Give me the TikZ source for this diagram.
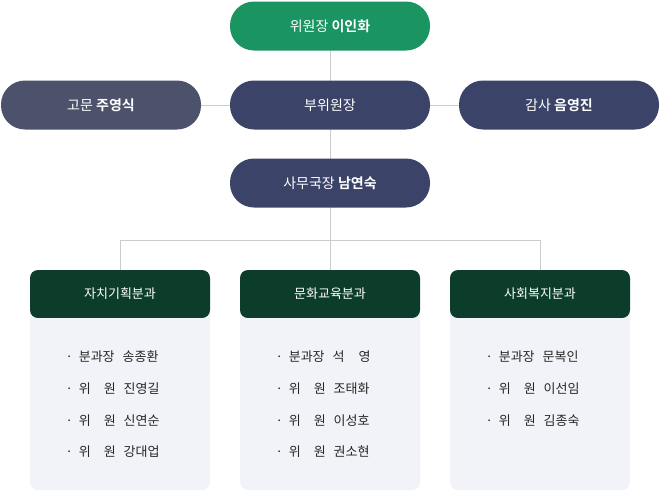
\documentclass[tikz,border=0pt]{standalone}
\usepackage{fontspec}
\setmainfont{Noto Sans CJK KR}
\newfontfamily\boldkr{Noto Sans CJK KR Bold}
\usetikzlibrary{positioning}
\definecolor{chairgreen}{HTML}{1A9461}
\definecolor{navy}{HTML}{3B4468}
\definecolor{slate}{HTML}{4D526C}
\definecolor{headgreen}{HTML}{0B3D2A}
\definecolor{bodygray}{HTML}{F2F3F8}
\definecolor{linegray}{HTML}{CCCCCC}
\tikzset{
  pill/.style={rounded corners=24pt, minimum width=200pt, minimum height=49pt,
    text=white, font=\fontsize{14}{16}\selectfont},
  head/.style={fill=headgreen, text=white, minimum width=180pt, minimum height=48pt,
    font=\fontsize{13}{15}\selectfont},
  item/.style={anchor=west, font=\fontsize{13}{15}\selectfont, text=black!85},
  link/.style={linegray, line width=0.8pt}
}
\newcommand{\wi}{·\hspace{6pt}위\hspace{13pt}원\hspace{8pt}}
\newcommand{\bun}{·\hspace{6pt}분과장\hspace{8pt}}
\begin{document}
\begin{tikzpicture}[x=1pt,y=-1pt]
  \useasboundingbox (0,0) rectangle (660,490);
  % 연결선
  \draw[link] (330,26) -- (330,240);
  \draw[link] (200,105) -- (460,105);
  \draw[link] (120,270) -- (120,240) -- (540,240) -- (540,270);
  \draw[link] (330,240) -- (330,270);

  % 상단
  \node[pill, fill=chairgreen] (chair) at (330,26) {위원장 {\boldkr 이인화}};
  \node[pill, fill=navy] (vice) at (330,105) {부위원장};
  \node[pill, fill=slate] (adviser) at (101,105) {고문 {\boldkr 주영식}};
  \node[pill, fill=navy] (auditor) at (559,105) {감사 {\boldkr 음영진}};
  \node[pill, fill=navy] (secretary) at (330,183) {사무국장 {\boldkr 남연숙}};

  % 분과
  \foreach \cx/\name/\title in {120/self/자치기획분과, 330/edu/문화교육분과, 540/welfare/사회복지분과} {
    \fill[bodygray, rounded corners=8pt] (\cx-90,300) rectangle (\cx+90,490);
    \fill[headgreen, rounded corners=8pt] (\cx-90,270) rectangle (\cx+90,318);
    \fill[bodygray] (\cx-90,318) rectangle (\cx+90,330);
    \node[font=\fontsize{13}{15}\selectfont, text=white] (\name) at (\cx,294) {\title};
  }

  % 위원 명단
  \node[item] (s1) at (62,357) {\bun 송종환};
  \node[item] (s2) at (62,389) {\wi 진영길};
  \node[item] (s3) at (62,421) {\wi 신연순};
  \node[item] (s4) at (62,452) {\wi 강대업};
  \node[item] (e1) at (272,357) {\bun 석\hspace{14pt}영};
  \node[item] (e2) at (272,389) {\wi 조태화};
  \node[item] (e3) at (272,421) {\wi 이성호};
  \node[item] (e4) at (272,452) {\wi 권소현};
  \node[item] (w1) at (482,357) {\bun 문복인};
  \node[item] (w2) at (482,389) {\wi 이선임};
  \node[item] (w3) at (482,421) {\wi 김종숙};
\end{tikzpicture}
\end{document}
